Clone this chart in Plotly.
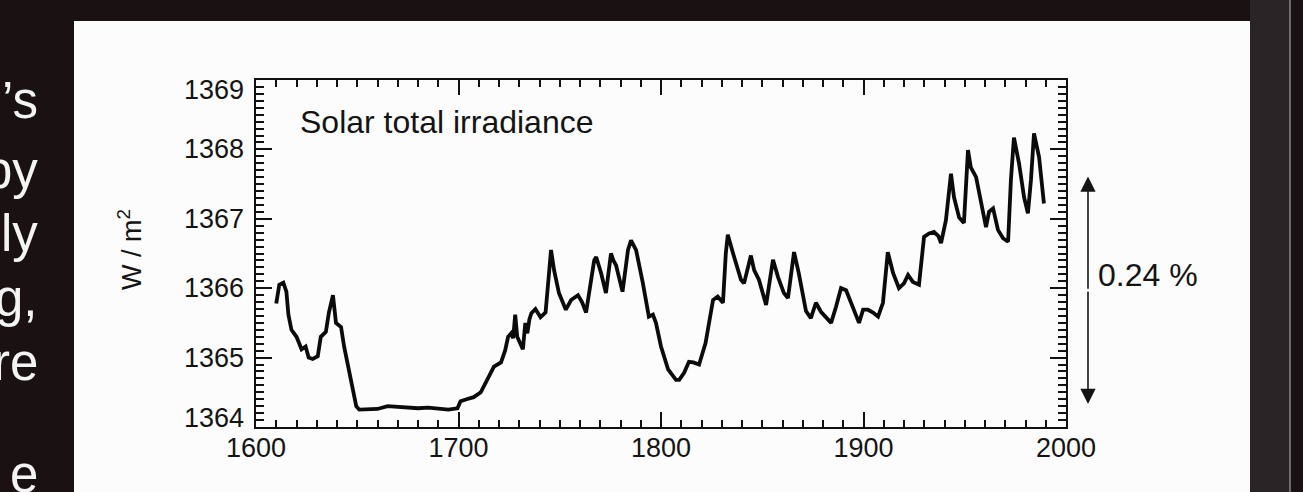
import plotly.graph_objects as go

# Reconstructed solar total irradiance (W/m^2), 1610-1990
years = [
    1610.0, 1611.5, 1613.5, 1615.0, 1616.0, 1617.5, 1620.0, 1622.5, 1624.5, 1626.0,
    1628.0, 1630.5, 1632.0, 1634.5, 1636.0, 1638.0, 1639.5, 1642.0, 1643.5, 1646.0,
    1648.0, 1649.5, 1651.0, 1655.0, 1660.0, 1665.0, 1670.0, 1675.0, 1680.0, 1685.0,
    1690.0, 1695.0, 1699.5, 1701.0, 1704.0, 1707.5, 1711.0, 1713.0, 1714.5, 1717.5,
    1721.0, 1723.0, 1724.5, 1726.0, 1727.0, 1728.0, 1729.0, 1730.5, 1731.8, 1733.0,
    1734.0, 1735.0, 1736.0, 1738.0, 1740.5, 1743.0, 1744.5, 1745.7, 1747.2, 1749.6,
    1753.0, 1755.6, 1759.0, 1761.0, 1763.0, 1765.4, 1767.0, 1768.0, 1770.4, 1772.8,
    1775.3, 1776.5, 1777.8, 1781.0, 1783.7, 1785.2, 1787.7, 1791.0, 1794.0, 1796.0,
    1797.5, 1800.0, 1803.5, 1807.4, 1809.0, 1811.4, 1813.8, 1816.0, 1818.8, 1822.0,
    1825.7, 1828.0, 1830.6, 1832.0, 1833.0, 1835.6, 1839.5, 1841.0, 1844.4, 1846.0,
    1848.4, 1851.9, 1855.3, 1857.8, 1860.7, 1862.7, 1865.7, 1868.0, 1871.6, 1874.0,
    1876.5, 1879.0, 1881.5, 1884.0, 1886.4, 1888.9, 1891.4, 1893.8, 1896.3, 1897.8,
    1899.8, 1902.2, 1904.7, 1907.2, 1909.6, 1912.0, 1914.6, 1917.5, 1920.0, 1922.0,
    1924.4, 1927.4, 1929.9, 1932.4, 1934.8, 1937.0, 1938.3, 1940.7, 1943.2, 1944.7,
    1947.2, 1949.6, 1951.6, 1953.0, 1955.6, 1958.0, 1960.5, 1962.0, 1964.0, 1966.4,
    1968.9, 1971.4, 1972.8, 1974.3, 1976.8, 1979.3, 1981.2, 1982.7, 1984.2, 1986.7,
    1989.1,
]
irradiance = [
    1365.78, 1366.05, 1366.08, 1365.95, 1365.62, 1365.40, 1365.30, 1365.12, 1365.16, 1365.00,
    1364.98, 1365.02, 1365.30, 1365.37, 1365.65, 1365.90, 1365.50, 1365.44, 1365.16, 1364.78,
    1364.50, 1364.30, 1364.25, 1364.26, 1364.26, 1364.30, 1364.29, 1364.28, 1364.27, 1364.28,
    1364.26, 1364.25, 1364.27, 1364.37, 1364.40, 1364.43, 1364.50, 1364.62, 1364.72, 1364.87,
    1364.93, 1365.10, 1365.30, 1365.35, 1365.28, 1365.62, 1365.30, 1365.20, 1365.12, 1365.50,
    1365.35, 1365.55, 1365.64, 1365.70, 1365.58, 1365.65, 1366.20, 1366.55, 1366.26, 1365.93,
    1365.69, 1365.83, 1365.90, 1365.80, 1365.65, 1366.16, 1366.40, 1366.45, 1366.22, 1365.93,
    1366.50, 1366.40, 1366.33, 1365.95, 1366.55, 1366.69, 1366.55, 1366.08, 1365.59, 1365.62,
    1365.50, 1365.16, 1364.83, 1364.68, 1364.68, 1364.78, 1364.94, 1364.93, 1364.90, 1365.21,
    1365.83, 1365.88, 1365.79, 1366.50, 1366.77, 1366.50, 1366.12, 1366.07, 1366.47, 1366.26,
    1366.12, 1365.76, 1366.41, 1366.16, 1365.93, 1365.86, 1366.52, 1366.22, 1365.67, 1365.57,
    1365.79, 1365.66, 1365.57, 1365.50, 1365.73, 1366.00, 1365.97, 1365.79, 1365.62, 1365.50,
    1365.69, 1365.69, 1365.65, 1365.59, 1365.79, 1366.52, 1366.22, 1366.00, 1366.07, 1366.19,
    1366.09, 1366.05, 1366.74, 1366.79, 1366.81, 1366.75, 1366.65, 1366.98, 1367.65, 1367.31,
    1367.02, 1366.94, 1367.99, 1367.74, 1367.60, 1367.22, 1366.88, 1367.10, 1367.15, 1366.84,
    1366.72, 1366.67, 1367.56, 1368.17, 1367.80, 1367.31, 1367.08, 1367.56, 1368.23, 1367.89,
    1367.22,
]

x_ticks = [1600, 1700, 1800, 1900, 2000]
y_ticks = [1364, 1365, 1366, 1367, 1368, 1369]
y_tick_nudge = [9, 0, 0, 0, 0, -10]   # end labels sit inside the frame
panel_title = "Solar total irradiance"
y_title = "W / m<sup>2</sup>"
range_pct = 0.24
range_center = 1365.97
slide_text = ["\u2019s", "by", "ly", "g,", "re", "e"]
slide_text_y = [100, 170, 233, 298, 362, 474]

# figure geometry (pixels)
W, H = 1303, 492
L, R, T, B = 256, 1066, 80, 427
FONT = "Liberation Sans, Arial, Helvetica, sans-serif"
INK = "#141414"


def px_x(px):
    return (px - L) / (R - L)


def px_y(py):
    return (B - py) / (B - T)


fig = go.Figure()
fig.add_trace(go.Scatter(
    x=years, y=irradiance, mode="lines",
    line=dict(color="#0b0b0b", width=3.8),
    hoverinfo="skip", showlegend=False,
))

axis_common = dict(
    showline=True, linecolor="#111", linewidth=2, mirror="allticks",
    ticks="inside", tickcolor="#111", tickwidth=2,
    showgrid=False, zeroline=False,
    tickfont=dict(family=FONT, size=27, color=INK),
)

fig.update_xaxes(
    range=[1600, 2000], tickvals=x_ticks, ticklen=15,
    minor=dict(dtick=10, ticklen=7, tickwidth=1.6, tickcolor="#111", ticks="inside"),
    ticklabelstandoff=-4,
    **axis_common,
)
fig.update_yaxes(
    range=[1364, 1369], tickvals=y_ticks, ticklen=16, showticklabels=False,
    minor=dict(dtick=0.1, ticklen=8, tickwidth=1.6, tickcolor="#111", ticks="inside"),
    **axis_common,
)

shapes = [
    # white printed panel behind the chart
    dict(type="rect", xref="paper", yref="paper",
         x0=px_x(74), x1=px_x(1250), y0=px_y(H + 5), y1=px_y(21),
         fillcolor="#fcfcfc", line=dict(width=0), layer="below"),
    # lighter strip right of the panel
    dict(type="rect", xref="paper", yref="paper",
         x0=px_x(1250), x1=px_x(1290), y0=px_y(H + 5), y1=px_y(-5),
         fillcolor="#2b2426", line=dict(width=0), layer="below"),
    dict(type="line", xref="paper", yref="paper",
         x0=px_x(1290), x1=px_x(1290), y0=px_y(H + 5), y1=px_y(-5),
         line=dict(color="#8a8687", width=1.5), layer="below"),
]

annotations = [
    dict(text=panel_title, xref="paper", yref="paper", x=px_x(298), y=px_y(122),
         xanchor="left", yanchor="middle", showarrow=False,
         font=dict(family=FONT, size=32, color=INK)),
    dict(text=y_title, xref="paper", yref="paper", x=px_x(130), y=px_y(250),
         xanchor="center", yanchor="middle", showarrow=False, textangle=-90,
         font=dict(family=FONT, size=27, color=INK)),
    dict(text=f"{range_pct:.2f} %", xref="paper", yref="paper", x=px_x(1096), y=px_y(275),
         xanchor="left", yanchor="middle", showarrow=False,
         font=dict(family=FONT, size=32, color=INK)),
]

# y tick labels, placed on the y scale
for val, nudge in zip(y_ticks, y_tick_nudge):
    annotations.append(dict(
        text=str(val), xref="paper", yref="y", x=px_x(246), y=val, yshift=nudge,
        xanchor="right", yanchor="middle", showarrow=False,
        font=dict(family=FONT, size=27, color=INK),
    ))

# double-headed arrow spanning the stated fraction of the mean irradiance
half_span = range_pct / 100 * range_center / 2
for tip in (range_center + half_span, range_center - half_span):
    annotations.append(dict(
        text="", xref="paper", yref="y", x=px_x(1088), y=tip,
        axref="pixel", ax=0, ayref="y", ay=range_center,
        showarrow=True, arrowhead=2, arrowsize=1.9, arrowwidth=1.6,
        arrowcolor=INK, standoff=0, startstandoff=0,
    ))

for txt, yc in zip(slide_text, slide_text_y):
    annotations.append(dict(
        text=txt, xref="paper", yref="paper", x=px_x(40), y=px_y(yc),
        xanchor="right", yanchor="middle", showarrow=False,
        font=dict(family=FONT, size=51, color="#f4f4f4"),
    ))

fig.update_layout(
    width=W, height=H, autosize=False,
    margin=dict(l=L, r=W - R, t=T, b=H - B, pad=0),
    paper_bgcolor="#1a1113", plot_bgcolor="rgba(0,0,0,0)",
    shapes=shapes, annotations=annotations,
)

fig.write_html("out.html")
